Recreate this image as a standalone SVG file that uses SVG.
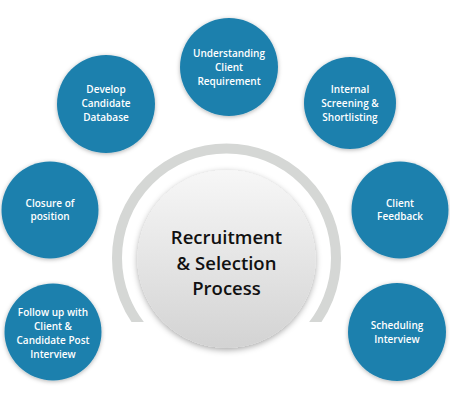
<svg xmlns="http://www.w3.org/2000/svg" width="450" height="400" viewBox="0 0 450 400">
<defs>
<style>
.node{fill:#1f80ad;filter:url(#sh)}
.lbl{font-family:"Open Sans","Liberation Sans",sans-serif;font-weight:600;font-size:10px;fill:#ffffff;text-anchor:middle}
.big{font-family:"Open Sans","Liberation Sans",sans-serif;font-weight:600;font-size:18.5px;fill:#111111;text-anchor:middle}
</style>
<filter id="sh" x="-30%" y="-30%" width="160%" height="160%">
<feDropShadow dx="0" dy="1" stdDeviation="2" flood-color="#000000" flood-opacity="0.3"/>
</filter>
<filter id="sh2" x="-30%" y="-30%" width="160%" height="160%">
<feDropShadow dx="0" dy="2" stdDeviation="3" flood-color="#000000" flood-opacity="0.35"/>
</filter>
<linearGradient id="cg" x1="0" y1="0" x2="0" y2="1">
<stop offset="0" stop-color="#f7f7f7"/>
<stop offset="1" stop-color="#d3d3d3"/>
</linearGradient>
<clipPath id="cut"><rect x="0" y="0" width="450" height="322"/></clipPath>
</defs>
<rect width="450" height="400" fill="#ffffff"/>
<g id="connectors">
<circle cx="226.5" cy="258" r="109.5" fill="none" stroke="#d5d7d5" stroke-width="10" clip-path="url(#cut)"/>
</g>
<g id="center">
<circle cx="226.5" cy="259" r="89" fill="url(#cg)" filter="url(#sh2)"/>
<text class="big" x="226.5" y="244">Recruitment</text>
<text class="big" x="226.5" y="269.5">&amp; Selection</text>
<text class="big" x="226.5" y="295">Process</text>
</g>
<g id="n1">
<circle class="node" cx="229" cy="67" r="49"/>
<text class="lbl" x="229" y="57">Understanding</text>
<text class="lbl" x="229" y="71">Client</text>
<text class="lbl" x="229" y="85">Requirement</text>
</g>
<g id="n2">
<circle class="node" cx="350" cy="103" r="46"/>
<text class="lbl" x="350" y="93">Internal</text>
<text class="lbl" x="350" y="107">Screening &amp;</text>
<text class="lbl" x="350" y="121">Shortlisting</text>
</g>
<g id="n3">
<circle class="node" cx="400" cy="210" r="48.5"/>
<text class="lbl" x="400" y="207">Client</text>
<text class="lbl" x="400" y="220">Feedback</text>
</g>
<g id="n4">
<circle class="node" cx="397" cy="332" r="49"/>
<text class="lbl" x="397" y="329">Scheduling</text>
<text class="lbl" x="397" y="343">Interview</text>
</g>
<g id="n5">
<circle class="node" cx="53" cy="332" r="48.5"/>
<text class="lbl" x="53" y="316">Follow up with</text>
<text class="lbl" x="53" y="330">Client &amp;</text>
<text class="lbl" x="53" y="344">Candidate Post</text>
<text class="lbl" x="53" y="358">Interview</text>
</g>
<g id="n6">
<circle class="node" cx="50" cy="210" r="48.5"/>
<text class="lbl" x="50" y="207">Closure of</text>
<text class="lbl" x="50" y="220">position</text>
</g>
<g id="n7">
<circle class="node" cx="106" cy="104" r="49"/>
<text class="lbl" x="106" y="93">Develop</text>
<text class="lbl" x="106" y="107">Candidate</text>
<text class="lbl" x="106" y="121">Database</text>
</g>
</svg>
